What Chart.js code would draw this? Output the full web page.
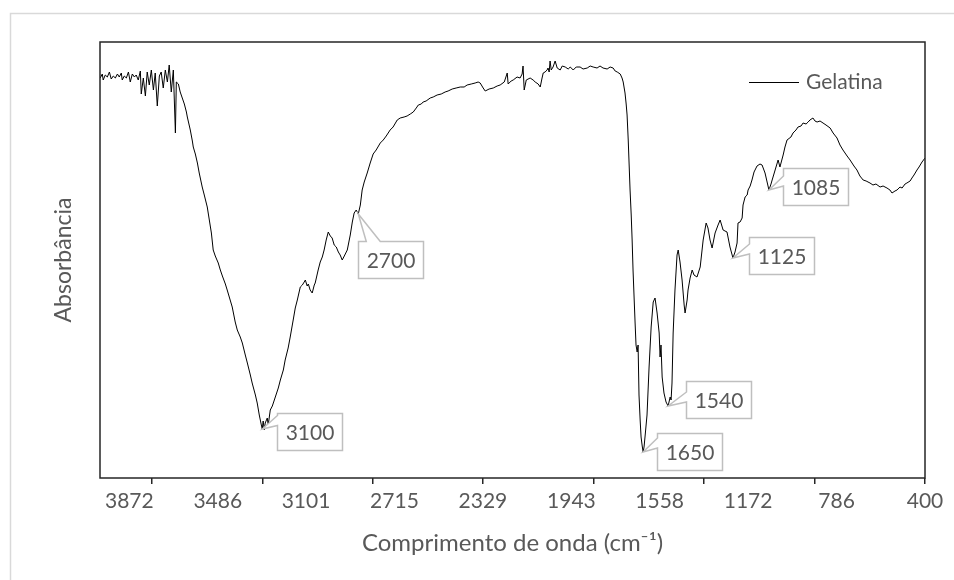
<!DOCTYPE html>
<html lang="pt">
<head>
<meta charset="UTF-8">
<title>Gelatina</title>
<script src="https://cdn.jsdelivr.net/npm/chart.js"></script>
<style>
  html, body { margin: 0; padding: 0; background: #fff; }
</style>
</head>
<body>
<canvas id="grafico" width="954" height="580"></canvas>
<script>
const numeroOnda = [
  3999,3990,3986,3977,3968,3959,3951,3942,3933,3924,
  3916,3907,3903,3894,3885,3876,3868,3859,3850,3842,
  3833,3824,3820,3811,3802,3794,3785,3776,3767,3759,
  3750,3741,3733,3724,3715,3706,3698,3689,3680,3671,
  3667,3658,3650,3641,3632,3623,3619,3610,3606,3597,
  3593,3584,3575,3567,3554,3545,3532,3523,3514,3506,
  3497,3484,3475,3466,3453,3445,3432,3423,3410,3401,
  3388,3379,3366,3357,3344,3336,3322,3314,3305,3296,
  3292,3288,3283,3279,3270,3266,3257,3248,3235,3222,
  3213,3200,3192,3179,3170,3157,3148,3139,3126,3117,
  3109,3104,3096,3091,3083,3074,3065,3061,3048,3039,
  3030,3022,3013,3004,2995,2987,2978,2969,2960,2952,
  2943,2934,2921,2908,2899,2891,2882,2873,2864,2856,
  2847,2834,2821,2808,2795,2777,2764,2751,2734,2721,
  2703,2690,2673,2660,2646,2633,2620,2611,2598,2590,
  2577,2559,2546,2529,2511,2494,2481,2463,2446,2428,
  2411,2398,2380,2363,2350,2341,2328,2319,2302,2284,
  2267,2254,2236,2223,2219,2206,2197,2180,2167,2158,
  2154,2149,2140,2123,2110,2101,2088,2079,2071,2066,
  2058,2049,2045,2040,2036,2031,2023,2014,2005,1992,
  1983,1970,1957,1948,1935,1922,1905,1892,1874,1861,
  1848,1831,1818,1805,1787,1774,1761,1752,1743,1730,
  1722,1717,1709,1704,1700,1695,1691,1687,1682,1678,
  1674,1669,1665,1661,1656,1652,1648,1643,1639,1634,
  1630,1626,1621,1613,1604,1595,1586,1578,1569,1560,
  1556,1552,1547,1539,1530,1521,1512,1508,1504,1499,
  1491,1482,1477,1469,1460,1451,1447,1438,1434,1425,
  1416,1408,1395,1381,1368,1355,1347,1338,1329,1316,
  1303,1294,1281,1264,1251,1238,1229,1220,1216,1207,
  1198,1194,1185,1176,1172,1163,1155,1146,1133,1120,
  1111,1098,1089,1081,1072,1067,1054,1041,1033,1019,
  1011,1002,985,976,963,954,941,932,919,910,
  902,889,880,871,858,845,832,814,801,784,
  771,758,740,727,710,697,684,670,657,640,
  627,614,596,583,566,553,544,531,522,509,
  500,487,479,465,457,448,435,426,413,400
];
const absorbancia = [
  4.00,4.04,3.98,4.03,4.01,4.06,3.99,4.02,4.00,4.04,
  4.01,4.05,3.98,4.02,4.00,4.06,3.96,4.04,4.01,4.03,
  3.98,4.07,3.84,4.00,3.82,4.06,3.93,4.08,3.88,4.05,
  3.72,4.02,4.06,3.90,4.08,3.96,4.13,3.86,4.08,3.45,
  3.96,3.94,3.86,3.80,3.74,3.66,3.61,3.52,3.48,3.37,
  3.31,3.24,3.15,3.05,2.91,2.83,2.71,2.58,2.45,2.28,
  2.22,2.15,2.08,2.02,1.94,1.88,1.78,1.71,1.56,1.48,
  1.41,1.35,1.23,1.15,1.03,0.95,0.83,0.75,0.63,0.53,
  0.49,0.57,0.48,0.55,0.60,0.53,0.68,0.72,0.81,0.90,
  0.98,1.08,1.18,1.30,1.41,1.58,1.70,1.78,1.91,1.93,
  1.96,1.98,1.92,1.94,1.88,1.85,1.93,1.95,2.08,2.16,
  2.21,2.28,2.38,2.46,2.42,2.40,2.33,2.31,2.26,2.23,
  2.18,2.22,2.28,2.43,2.56,2.65,2.68,2.64,2.73,2.88,
  2.96,3.05,3.15,3.24,3.28,3.35,3.38,3.42,3.48,3.51,
  3.58,3.60,3.61,3.62,3.64,3.66,3.70,3.73,3.74,3.76,
  3.77,3.80,3.81,3.83,3.84,3.86,3.87,3.89,3.90,3.91,
  3.91,3.93,3.94,3.95,3.96,3.95,3.90,3.87,3.89,3.90,
  3.92,3.93,3.96,4.05,3.94,3.97,3.98,4.01,4.00,4.04,
  4.12,3.88,3.98,4.00,3.98,3.96,3.94,3.91,4.00,4.05,
  4.06,4.08,4.10,4.06,4.17,4.08,4.11,4.17,4.10,4.08,
  4.12,4.11,4.09,4.11,4.08,4.11,4.11,4.09,4.10,4.12,
  4.11,4.10,4.12,4.10,4.09,4.11,4.10,4.07,4.06,4.04,
  4.00,3.96,3.85,3.74,3.63,3.38,3.13,2.88,2.63,2.38,
  2.08,1.78,1.55,1.33,1.26,1.33,0.83,0.58,0.41,0.32,
  0.26,0.31,0.43,0.63,1.11,1.51,1.76,1.80,1.65,1.45,
  1.21,1.33,1.01,0.85,0.76,0.72,0.81,0.78,0.95,1.45,
  1.88,2.23,2.28,2.16,1.98,1.73,1.65,1.78,1.88,2.00,
  2.08,2.03,2.01,2.11,2.38,2.55,2.50,2.38,2.30,2.45,
  2.53,2.58,2.48,2.46,2.31,2.20,2.26,2.35,2.55,2.56,
  2.60,2.73,2.81,2.83,2.88,2.92,2.98,3.06,3.12,3.14,
  3.13,3.05,2.96,2.88,2.94,2.98,3.08,3.18,3.11,3.23,
  3.31,3.38,3.41,3.45,3.48,3.51,3.52,3.55,3.54,3.56,
  3.58,3.60,3.57,3.56,3.57,3.55,3.53,3.50,3.45,3.40,
  3.33,3.28,3.22,3.18,3.12,3.08,3.02,2.98,2.97,2.95,
  2.93,2.94,2.91,2.92,2.90,2.88,2.85,2.87,2.88,2.91,
  2.90,2.94,2.95,2.97,3.00,3.03,3.08,3.11,3.16,3.20
];

// rótulos do eixo x e posições das marcas (intervalos diferentes, como no Excel)
const rotulosX = [3872, 3486, 3101, 2715, 2329, 1943, 1558, 1172, 786, 400];
const marcasX = [3774, 3292, 2810, 2328, 1846, 1364, 882, 400];

// picos anotados: onde a seta aponta e o texto da caixa
const picosOnda = [3292, 2873, 1630, 1521, 1238, 1081];
const picosTexto = ['3100', '2700', '1650', '1540', '1125', '1085'];

const corTexto = '#595959';
const corEixo = '#262626';
const fonte = 'Lato, "Open Sans", sans-serif';

// deslocamento das caixas em relação ao ponto (px), lado do bico
const caixas = [
  { dx: 15, dy: -16, lado: 'esq' },
  { dx: 0, dy: 27, lado: 'topo' },
  { dx: 14, dy: -19, lado: 'esq' },
  { dx: 18, dy: -25, lado: 'esq' },
  { dx: 16, dy: -21, lado: 'esq' },
  { dx: 14, dy: -22, lado: 'esq' }
];

const pontos = numeroOnda.map((x, i) => ({ x: x, y: absorbancia[i] }));

const fundo = {
  id: 'fundo',
  beforeDraw(chart) {
    const c = chart.ctx;
    c.save();
    c.fillStyle = '#fff';
    c.fillRect(0, 0, chart.width, chart.height);
    c.strokeStyle = '#d9d9d9';
    c.lineWidth = 1.5;
    c.strokeRect(10.5, 13.5, chart.width + 20, chart.height + 20);
    c.restore();
  }
};

const moldura = {
  id: 'moldura',
  afterDraw(chart) {
    const a = chart.chartArea;
    const c = chart.ctx;
    c.save();
    c.strokeStyle = corEixo;
    c.lineWidth = 1.5;
    c.strokeRect(a.left, a.top, a.right - a.left, a.bottom - a.top);

    // legenda
    const ds = chart.data.datasets[0];
    const ly = a.top + 40;
    c.strokeStyle = ds.borderColor;
    c.lineWidth = 1;
    c.beginPath();
    c.moveTo(a.right - 176, ly + 0.5);
    c.lineTo(a.right - 126, ly + 0.5);
    c.stroke();
    c.fillStyle = corTexto;
    c.font = '21px ' + fonte;
    c.textAlign = 'left';
    c.textBaseline = 'middle';
    c.fillText(ds.label, a.right - 119, ly);
    c.restore();
  }
};

const anotacoes = {
  id: 'anotacoes',
  afterDatasetsDraw(chart) {
    const meta = chart.getDatasetMeta(0);
    const c = chart.ctx;
    const w = 65, h = 37;
    c.save();
    c.font = '21px ' + fonte;
    picosOnda.forEach((onda, k) => {
      let idx = 0;
      numeroOnda.forEach((v, i) => {
        if (Math.abs(v - onda) < Math.abs(numeroOnda[idx] - onda)) idx = i;
      });
      const p = meta.data[idx];
      const px = p.x, py = p.y;
      const bx = Math.round(px + caixas[k].dx) + 0.5;
      const by = Math.round(py + caixas[k].dy) + 0.5;
      c.beginPath();
      if (caixas[k].lado === 'topo') {
        const a1 = Math.min(Math.max(px + 8, bx + 3), bx + w - 16);
        c.moveTo(bx, by);
        c.lineTo(a1, by);
        c.lineTo(px, py);
        c.lineTo(a1 + 14, by);
        c.lineTo(bx + w, by);
        c.lineTo(bx + w, by + h);
        c.lineTo(bx, by + h);
      } else {
        const a1 = Math.min(Math.max(py - 14, by + 2), by + h - 12);
        c.moveTo(bx, by);
        c.lineTo(bx + w, by);
        c.lineTo(bx + w, by + h);
        c.lineTo(bx, by + h);
        c.lineTo(bx, a1 + 10);
        c.lineTo(px, py);
        c.lineTo(bx, a1);
      }
      c.closePath();
      c.fillStyle = '#fff';
      c.fill();
      c.strokeStyle = '#bfbfbf';
      c.lineWidth = 1.5;
      c.stroke();
      c.fillStyle = corTexto;
      c.textAlign = 'center';
      c.textBaseline = 'middle';
      c.fillText(picosTexto[k], bx + w / 2, by + h / 2 + 1);
    });
    c.restore();
  }
};

new Chart(document.getElementById('grafico'), {
  type: 'line',
  data: {
    datasets: [{
      label: 'Gelatina',
      data: pontos,
      borderColor: '#000',
      borderWidth: 1,
      pointRadius: 0,
      tension: 0,
      fill: false
    }]
  },
  options: {
    responsive: false,
    animation: false,
    devicePixelRatio: 1,
    layout: { padding: { top: 42, right: 29, left: 0, bottom: 0 } },
    plugins: {
      legend: { display: false },
      tooltip: { enabled: false }
    },
    scales: {
      x: {
        type: 'linear',
        reverse: true,
        min: 400,
        max: 4000,
        afterBuildTicks: s => {
          const todos = [...new Set([...rotulosX, ...marcasX])].sort((a, b) => a - b);
          s.ticks = todos.map(v => ({ value: v }));
        },
        afterFit: s => { s.height = 102; },
        border: { display: false },
        grid: {
          display: true,
          drawOnChartArea: false,
          drawTicks: true,
          tickLength: 6,
          lineWidth: 1.5,
          tickColor: ctx => (ctx.tick && marcasX.includes(ctx.tick.value)) ? corEixo : 'rgba(0,0,0,0)'
        },
        ticks: {
          autoSkip: false,
          maxRotation: 0,
          padding: 5,
          color: corTexto,
          font: { family: fonte, size: 21 },
          callback: v => rotulosX.includes(v) ? String(v) : ''
        },
        title: {
          display: true,
          text: 'Comprimento de onda (cm⁻¹)',
          color: corTexto,
          font: { family: fonte, size: 24 },
          padding: { top: 0, bottom: 22 }
        }
      },
      y: {
        min: 0,
        max: 4.36,
        afterFit: s => { s.width = 100; },
        border: { display: false },
        grid: { display: false },
        ticks: { display: false },
        title: {
          display: true,
          text: 'Absorbância',
          color: corTexto,
          font: { family: fonte, size: 23 },
          padding: { top: 50, bottom: 50 }
        }
      }
    }
  },
  plugins: [fundo, anotacoes, moldura]
});
</script>
</body>
</html>
